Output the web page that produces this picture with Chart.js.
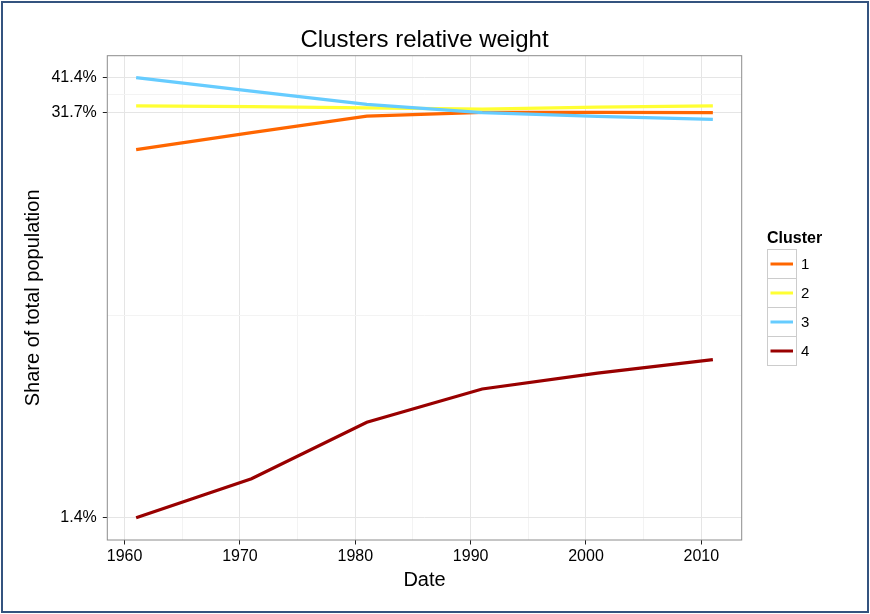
<!DOCTYPE html>
<html>
<head>
<meta charset="utf-8">
<script src="https://cdn.jsdelivr.net/npm/chart.js@4.4.1/dist/chart.umd.min.js"></script>
<style>
  html, body { margin: 0; padding: 0; background: #fff; }
  canvas { display: block; }
</style>
</head>
<body>
<canvas id="clusterChart" width="870" height="614"></canvas>
<script>
// data (share of total population, %)
const years = [1961, 1971, 1981, 1991, 2001, 2011];
const clusterNames = ["1", "2", "3", "4"];
const cluster1 = [23.8, 27.1, 30.8, 31.7, 31.7, 31.6];
const cluster2 = [33.3, 33.1, 32.8, 32.5, 33.0, 33.3];
const cluster3 = [41.4, 37.3, 33.7, 31.6, 30.7, 30.0];
const cluster4 = [1.4, 1.89, 2.92, 3.77, 4.26, 4.73];
const yTicks = [1.4, 31.7, 41.4];
const xTicks = [1960, 1970, 1980, 1990, 2000, 2010];
const clusterColors = ["#ff6600", "#ffff33", "#66ccff", "#990000"];

const series = [cluster1, cluster2, cluster3, cluster4];

// minor grid lines sit half way between the major breaks (log space for y)
const yMinor = [];
for (let i = 0; i < yTicks.length - 1; i++) {
  yMinor.push(Math.sqrt(yTicks[i] * yTicks[i + 1]));
}
const xMinor = [];
for (let i = 0; i < xTicks.length - 1; i++) {
  xMinor.push((xTicks[i] + xTicks[i + 1]) / 2);
}

Chart.defaults.font.family = '"Liberation Sans", Arial, Helvetica, sans-serif';
Chart.defaults.color = "#000";

const isMajor = (list, v) => list.some((t) => Math.abs(t - v) < 1e-6);

const backdrop = {
  id: "backdrop",
  beforeDraw(chart) {
    const c = chart.ctx;
    c.save();
    c.fillStyle = "#fff";
    c.fillRect(0, 0, chart.width, chart.height);
    c.restore();
  },
  afterDraw(chart) {
    const c = chart.ctx;
    const a = chart.chartArea;
    c.save();
    c.strokeStyle = "#8c8c8c";
    c.lineWidth = 1;
    c.strokeRect(a.left, a.top, a.right - a.left, a.bottom - a.top);
    c.strokeStyle = "#34537f";
    c.lineWidth = 2;
    c.strokeRect(2, 2, chart.width - 4, chart.height - 4);
    c.restore();
  },
};

const clusterLegend = {
  id: "clusterLegend",
  afterDraw(chart) {
    const c = chart.ctx;
    const x0 = 767;
    const top = 249;
    const size = 29;
    c.save();
    c.fillStyle = "#000";
    c.font = 'bold 16px "Liberation Sans", Arial, sans-serif';
    c.textBaseline = "alphabetic";
    c.textAlign = "left";
    c.fillText("Cluster", x0, 243);
    chart.data.datasets.forEach((ds, i) => {
      const y = top + i * size;
      c.fillStyle = "#fff";
      c.fillRect(x0, y, size, size);
      c.strokeStyle = "#cccccc";
      c.lineWidth = 1;
      c.strokeRect(x0 + 0.5, y + 0.5, size, size);
      c.strokeStyle = ds.borderColor;
      c.lineWidth = 3;
      c.beginPath();
      c.moveTo(x0 + 3.5, y + size / 2 + 0.5);
      c.lineTo(x0 + size - 3, y + size / 2 + 0.5);
      c.stroke();
      c.fillStyle = "#000";
      c.font = '15px "Liberation Sans", Arial, sans-serif';
      c.textBaseline = "middle";
      c.fillText(ds.label, x0 + size + 5, y + size / 2 + 1);
    });
    c.restore();
  },
};

const ctx = document.getElementById("clusterChart").getContext("2d");
const chart = new Chart(ctx, {
  type: "line",
  data: {
    datasets: series.map((vals, i) => ({
      label: clusterNames[i],
      data: years.map((yr, j) => ({ x: yr, y: vals[j] })),
      borderColor: clusterColors[i],
      backgroundColor: clusterColors[i],
      borderWidth: 3.2,
      pointRadius: 0,
      tension: 0,
      fill: false,
      order: series.length - 1 - i,
    })),
  },
  options: {
    responsive: false,
    animation: false,
    devicePixelRatio: 1,
    layout: { padding: { left: 0, right: 128.3, top: 0, bottom: 0 } },
    plugins: {
      legend: { display: false },
      tooltip: { enabled: false },
      title: {
        display: true,
        text: "Clusters relative weight",
        fullSize: false,
        font: { size: 24, weight: "normal" },
        color: "#000",
        padding: { top: 25.6, bottom: 1.3 },
      },
    },
    scales: {
      x: {
        type: "linear",
        min: 1958.5,
        max: 2013.5,
        afterBuildTicks: (scale) => {
          scale.ticks = xTicks.concat(xMinor).sort((a, b) => a - b).map((v) => ({ value: v }));
        },
        afterFit: (scale) => { scale.height = 74; },
        ticks: {
          autoSkip: false,
          maxRotation: 0,
          padding: 2.4,
          font: { size: 16 },
          callback: (v) => (isMajor(xTicks, v) ? String(v) : ""),
        },
        grid: {
          color: (c) => (c.tick && isMajor(xTicks, c.tick.value) ? "#e5e5e5" : "#f3f3f3"),
          tickColor: (c) => (c.tick && isMajor(xTicks, c.tick.value) ? "#222" : "rgba(0,0,0,0)"),
          tickLength: 4.5,
          lineWidth: 1,
        },
        border: { display: false },
        title: {
          display: true,
          text: "Date",
          font: { size: 20 },
          padding: { top: 0, bottom: 21.8 },
        },
      },
      y: {
        type: "logarithmic",
        min: 1.18,
        max: 49.0,
        afterBuildTicks: (scale) => {
          scale.ticks = yTicks.concat(yMinor).sort((a, b) => a - b).map((v) => ({ value: v }));
        },
        afterFit: (scale) => { scale.width = 107.3; },
        ticks: {
          autoSkip: false,
          padding: 6,
          font: { size: 16 },
          callback: (v) => (isMajor(yTicks, v) ? v.toFixed(1) + "%" : ""),
        },
        grid: {
          color: (c) => (c.tick && isMajor(yTicks, c.tick.value) ? "#e5e5e5" : "#f3f3f3"),
          tickColor: (c) => (c.tick && isMajor(yTicks, c.tick.value) ? "#222" : "rgba(0,0,0,0)"),
          tickLength: 4.5,
          lineWidth: 1,
        },
        border: { display: false },
        title: {
          display: true,
          text: "Share of total population",
          font: { size: 20 },
          padding: { top: 21, bottom: 0 },
        },
      },
    },
  },
  plugins: [backdrop, clusterLegend],
});
</script>
</body>
</html>
